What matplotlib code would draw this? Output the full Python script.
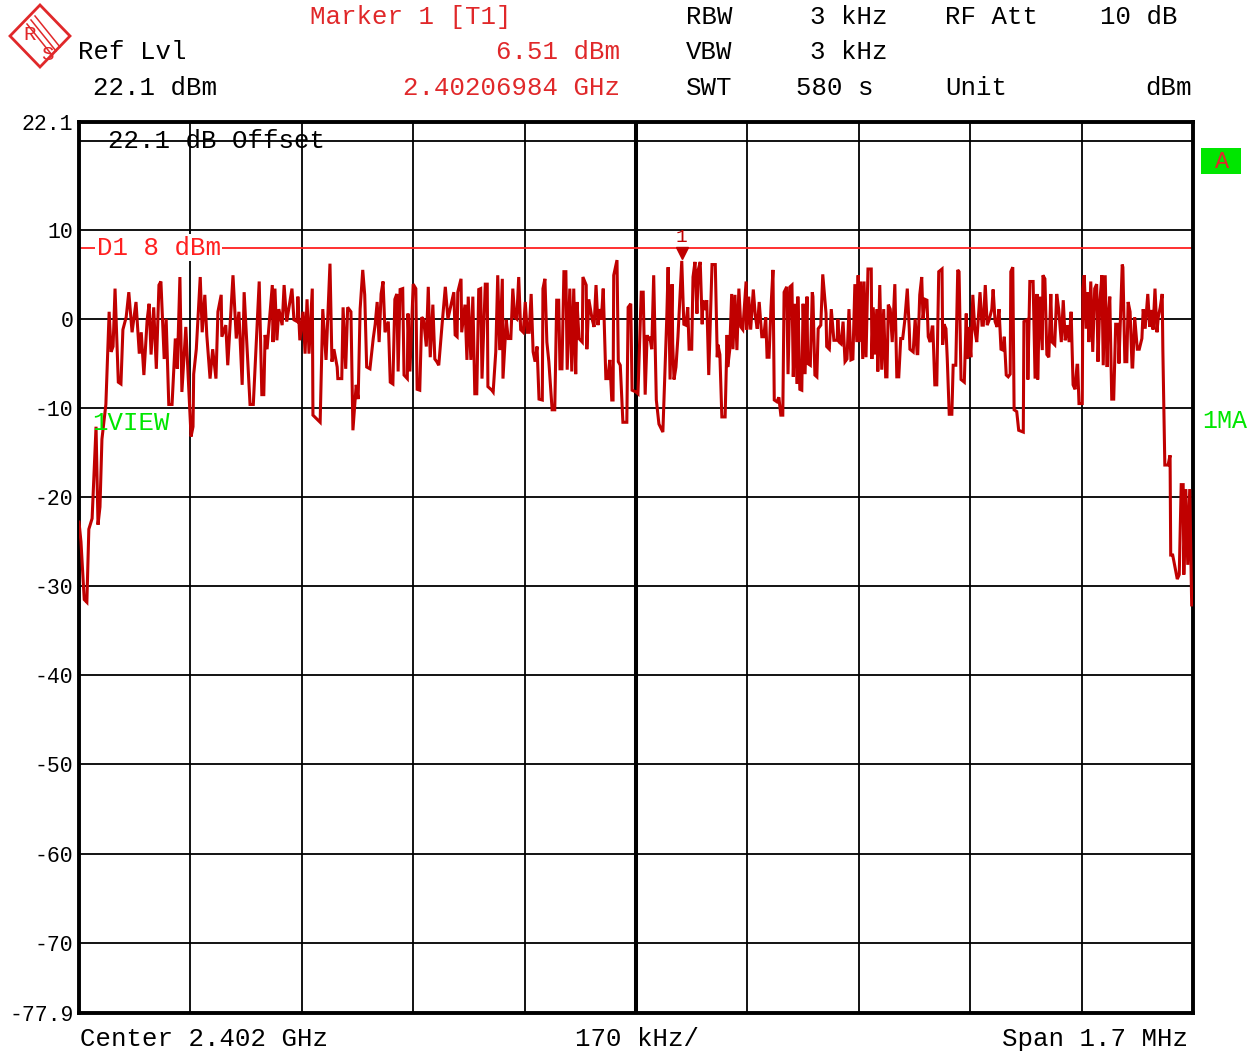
import matplotlib
matplotlib.use("Agg")
import matplotlib.pyplot as plt
import matplotlib.transforms as mtransforms
from matplotlib.patches import Polygon, Rectangle
from matplotlib.lines import Line2D

# ---- sweep settings -------------------------------------------------------
center_ghz = 2.402
span_khz = 1700.0
div_khz = 170.0
ref_level = 22.1
bottom_level = -77.9
display_line = 8.0
marker_freq_khz = 919.84     # offset from start of sweep (2.40206984 GHz)
marker_level = 6.51

# ---- trace: frequency offset from sweep start (kHz) and level (dBm) -------
freq_khz = [
    0, 3, 8, 12, 15, 20, 26, 29, 32, 35, 38, 41, 46, 49, 52, 55, 60, 64, 67, 72,
    76, 81, 87, 92, 95, 99, 104, 107, 110, 114, 118, 122, 125, 130, 133, 137, 142, 147, 150, 154,
    157, 163, 168, 171, 174, 175, 179, 185, 188, 192, 195, 200, 204, 209, 212, 217, 218, 224, 227, 232,
    235, 240, 244, 249, 252, 256, 261, 266, 270, 275, 279, 282, 284, 287, 295, 296, 299, 302, 305, 310,
    313, 317, 320, 325, 328, 333, 334, 337, 342, 345, 348, 351, 356, 357, 368, 372, 377, 383, 386, 389,
    394, 395, 401, 403, 407, 410, 415, 418, 423, 426, 429, 433, 436, 439, 444, 449, 452, 455, 458, 461,
    464, 467, 472, 475, 479, 482, 485, 487, 490, 494, 496, 501, 502, 505, 510, 514, 516, 520, 523, 526,
    530, 533, 536, 540, 543, 546, 549, 554, 559, 563, 572, 574, 577, 578, 583, 584, 589, 592, 594, 598,
    601, 604, 607, 610, 613, 615, 620, 623, 624, 630, 632, 636, 639, 642, 646, 647, 652, 655, 659, 662,
    665, 668, 671, 674, 678, 681, 684, 687, 690, 693, 696, 699, 702, 707, 708, 711, 714, 717, 722, 726,
    729, 732, 734, 737, 740, 743, 745, 749, 752, 755, 758, 760, 763, 768, 769, 774, 775, 778, 783, 786,
    789, 792, 794, 797, 800, 804, 807, 810, 813, 815, 816, 821, 823, 826, 830, 836, 838, 842, 844, 850,
    853, 858, 861, 864, 867, 868, 871, 874, 877, 881, 885, 891, 897, 899, 902, 905, 906, 908, 911, 914,
    919.84, 923, 926, 929, 931, 935, 937, 940, 943, 945, 948, 951, 952, 955, 958, 961, 966, 971, 974, 975,
    978, 981, 986, 989, 990, 993, 996, 998, 1001, 1004, 1007, 1010, 1013, 1018, 1019, 1022, 1025, 1029, 1032, 1035,
    1038, 1042, 1045, 1048, 1050, 1053, 1056, 1059, 1061, 1065, 1068, 1071, 1074, 1076, 1080, 1082, 1085, 1088, 1090, 1093,
    1096, 1097, 1100, 1103, 1105, 1108, 1111, 1112, 1116, 1119, 1120, 1123, 1126, 1128, 1132, 1135, 1140, 1141, 1145, 1148,
    1151, 1152, 1157, 1158, 1160, 1163, 1166, 1169, 1172, 1175, 1178, 1181, 1184, 1187, 1189, 1190, 1193, 1196, 1198, 1201,
    1204, 1209, 1210, 1212, 1215, 1218, 1219, 1222, 1225, 1228, 1231, 1233, 1235, 1238, 1241, 1245, 1248, 1251, 1254, 1257,
    1260, 1264, 1267, 1268, 1273, 1276, 1279, 1280, 1283, 1286, 1288, 1291, 1294, 1296, 1299, 1302, 1303, 1306, 1309, 1312,
    1317, 1318, 1320, 1323, 1325, 1328, 1332, 1334, 1338, 1341, 1343, 1346, 1351, 1354, 1355, 1358, 1361, 1364, 1367, 1370,
    1375, 1378, 1380, 1383, 1386, 1389, 1393, 1395, 1398, 1401, 1404, 1407, 1410, 1412, 1415, 1418, 1421, 1422, 1425, 1427,
    1431, 1434, 1441, 1442, 1447, 1448, 1451, 1456, 1459, 1462, 1463, 1466, 1470, 1471, 1474, 1477, 1480, 1483, 1485, 1489,
    1492, 1495, 1499, 1502, 1505, 1508, 1511, 1514, 1517, 1520, 1523, 1524, 1526, 1531, 1532, 1534, 1537, 1540, 1541, 1544,
    1547, 1550, 1553, 1555, 1558, 1561, 1563, 1566, 1569, 1570, 1573, 1576, 1579, 1582, 1586, 1587, 1592, 1593, 1596, 1599,
    1601, 1604, 1607, 1608, 1611, 1615, 1618, 1622, 1624, 1627, 1631, 1634, 1637, 1639, 1642, 1645, 1647, 1650, 1653, 1654,
    1657, 1662, 1665, 1666, 1669, 1676, 1679, 1682, 1685, 1686, 1689, 1692, 1695, 1698, 1700,
]
level_dbm = [
    -22.8, -25.0, -31.5, -31.8, -23.6, -22.4, -12.1, -23.1, -21.1, -13.5, -11.6, -9.6, 0.8, -3.7, -3.1, 3.4, -7.1, -7.3, -1.2, 0.2,
    3.0, -1.5, 1.9, -3.9, -1.5, -6.3, -0.1, 1.7, -4.0, 1.3, -5.6, 3.8, 4.2, -4.5, 0.0, -9.6, -9.6, -2.2, -5.6, 4.7,
    -8.2, -0.9, -8.5, -13.2, -12.1, -6.2, -3.4, 4.7, -1.5, 2.7, -1.8, -6.7, -3.4, -6.7, 0.8, 2.7, -2.0, -0.7, -5.2, 1.1,
    4.9, -2.2, 0.8, -7.4, 3.0, -2.6, -9.6, -9.6, -3.4, 4.2, -8.5, -8.5, -1.8, -3.4, 3.8, -2.6, 3.4, -2.4, 1.1, -0.7,
    3.8, -0.3, 1.1, 3.4, -0.1, -0.3, 2.5, -2.4, 0.8, -3.9, 2.2, -3.9, 3.4, -10.8, -11.6, 1.1, -4.6, 6.2, -4.8, -3.4,
    -5.4, -6.7, -6.7, 1.3, -5.6, 1.3, 0.8, -12.5, -7.4, -9.0, 1.1, 5.5, 2.7, -5.4, -5.6, -2.2, -0.6, 1.9, -2.6, 2.8,
    4.2, -1.5, -0.3, -7.1, -7.3, 2.2, 2.8, -5.9, 3.3, 3.4, -6.3, -6.7, 0.6, -5.9, 3.9, 3.4, -7.9, -8.0, 0.2, -0.1,
    -3.1, 3.6, -4.3, 1.6, -4.5, -4.8, -5.2, -0.7, 3.6, 0.0, 3.0, -1.8, -2.0, 3.0, 4.5, -1.5, 1.6, -4.6, 2.5, -4.6,
    2.5, -8.4, -8.4, 3.3, 3.4, -6.7, 3.9, 3.9, -7.6, -8.0, -8.2, -3.7, 4.9, -3.5, 4.5, -6.7, -0.1, -2.2, -2.2, 3.4,
    0.2, 0.0, 4.7, -1.2, -1.5, 1.9, -1.5, -1.5, 2.8, -3.7, -4.8, -3.1, -9.0, -9.1, 3.4, 4.5, -2.6, -4.8, -10.2, -10.2,
    2.1, 2.1, -5.6, -5.6, 5.3, 5.3, -5.7, 3.4, -5.9, 3.4, -6.2, 1.9, -2.2, -2.6, 4.7, 3.8, -3.4, 2.2, 0.0, -0.9,
    3.8, -0.7, 1.1, -0.1, 3.4, -6.7, -6.7, -4.6, -9.1, -9.1, 4.9, 6.6, -4.8, -5.2, -11.6, -11.6, 1.3, 1.7, -8.0, -8.2,
    -8.4, 3.0, 3.0, -8.5, -1.8, -2.4, -2.0, -3.4, 4.9, -9.1, -11.8, -12.7, 0.2, 5.8, -6.8, 3.9, -2.8, -6.8, -5.4, -2.0,
    6.51, -0.6, -0.7, 1.3, -3.4, -3.4, 4.7, 6.4, 0.6, 5.5, 6.4, -0.6, 2.1, 1.0, 2.1, -6.3, 6.1, 6.1, -4.3, -2.9,
    -4.0, -11.0, -11.0, -1.8, -5.4, -3.5, 2.8, -3.4, 2.7, -3.5, 3.4, -0.9, -1.2, 4.2, -1.2, 2.5, -1.2, 3.3, 0.4, -1.1,
    1.9, -2.0, -2.0, 0.2, -4.3, -4.3, 1.3, 5.5, -9.1, -9.3, -8.8, -10.8, -10.8, 3.0, 3.6, -6.2, 3.6, 3.8, -6.5, 1.7,
    -7.3, 2.5, -7.9, -8.0, 1.7, -6.2, 2.5, -5.0, -5.2, 3.0, 2.5, -6.3, -6.5, -1.1, -0.7, 5.0, 0.6, -3.1, -3.4, 1.1,
    -1.5, -2.4, -2.4, 0.0, -2.6, -2.8, -0.3, -4.8, -4.5, 1.1, -4.6, -4.5, 3.9, -2.6, 4.9, -2.6, 4.2, -4.5, 4.2, -4.3,
    5.6, 5.6, -4.5, 1.3, -4.0, 1.1, -5.9, 3.8, -5.7, 1.1, -6.5, -6.5, 1.6, 1.1, -2.6, 3.9, -6.5, -6.5, -2.2, -2.2,
    -0.3, 3.4, -1.1, -3.4, -3.7, 0.0, -3.9, -3.9, 2.7, 4.7, 0.0, 2.2, 2.1, -2.0, -2.6, -0.9, -0.9, -7.4, -7.4, 5.3,
    5.6, -2.9, -0.6, -1.1, -4.5, -10.7, -10.7, -5.2, -5.2, 5.5, 5.3, -6.8, -7.1, 0.6, -4.5, -0.9, -4.3, 2.7, -1.2, -2.6,
    3.0, -0.7, -0.7, 3.8, -0.7, -0.1, 1.1, 3.3, -0.3, -0.9, 1.1, -3.4, -3.5, -2.0, -6.3, -6.5, -6.2, 5.3, 5.8, -10.2,
    -10.4, -12.5, -12.7, -0.3, -0.1, -6.8, 4.2, 4.2, -6.7, 2.8, -6.8, 2.5, -3.5, 4.9, 4.5, -4.0, -4.3, 2.8, -2.6, -2.9,
    2.8, 1.1, -2.6, 2.1, -2.4, -0.7, -2.6, 0.8, -7.4, -7.9, -5.2, -5.2, -9.5, -9.5, 3.4, 4.9, -1.1, 3.0, -2.6, 4.2,
    -3.7, 3.4, 3.9, -4.8, 2.1, 4.9, -5.2, 4.9, -5.4, -0.6, 2.5, -9.0, -9.0, -0.6, -0.6, -5.0, 6.1, 5.8, -4.8, -4.8,
    1.9, 0.8, -5.4, -5.4, 0.2, -3.4, -3.4, -2.2, 1.1, -1.1, 2.8, -0.9, 1.0, -1.2, 3.4, -1.5, 0.2, 1.3, 2.8, -3.5,
    -16.4, -16.4, -15.3, -26.5, -26.5, -29.2, -28.7, -18.6, -18.6, -28.7, -19.1, -27.6, -19.1, -32.1, -32.1,
]

grid_levels = [20, 10, 0, -10, -20, -30, -40, -50, -60, -70]
ytick_levels = [22.1, 10, 0, -10, -20, -30, -40, -50, -60, -70, -77.9]
ytick_labels = ["22.1", "10", "0", "-10", "-20", "-30", "-40", "-50", "-60", "-70", "-77.9"]

# ---- colours / fonts --------------------------------------------------------
TRACE = "#c00000"
HDR_RED = "#e0282a"
LINE_RED = "#ff2020"
GREEN = "#00e600"
MONO = ["Liberation Mono", "DejaVu Sans Mono"]

W, H = 1256, 1053
fig = plt.figure(figsize=(W / 100, H / 100), dpi=100)
fig.patch.set_facecolor("white")


def fx(px):
    return px / W


def fy(py):
    return 1 - py / H


ax = fig.add_axes([fx(79), fy(1013), fx(1193) - fx(79), fy(122) - fy(1013)])
ax.set_xlim(0, span_khz)
ax.set_ylim(bottom_level, ref_level)
ax.set_facecolor("white")

# graticule
for lv in grid_levels:
    ax.axhline(lv, color="black", lw=1.3, zorder=1)
n_div = int(round(span_khz / div_khz))
for i in range(1, n_div):
    ax.axvline(i * div_khz, color="black", lw=2.9 if i == n_div // 2 else 1.3, zorder=1)
for sp in ax.spines.values():
    sp.set_linewidth(2.8)
    sp.set_color("black")

ax.set_xticks([])
ax.set_yticks(ytick_levels)
ax.set_yticklabels(ytick_labels, fontfamily=MONO, fontsize=15.5)
ax.tick_params(axis="y", length=0, pad=4)

# display line D1
ax.axhline(display_line, color=LINE_RED, lw=1.3, zorder=2)
ax.text(27, display_line, "D1 8 dBm", color=LINE_RED, fontfamily=MONO, fontsize=18.5,
        va="center", ha="left", zorder=3,
        bbox=dict(facecolor="white", edgecolor="none", pad=1.0))

# trace
ax.plot(freq_khz, level_dbm, color=TRACE, lw=2.2, zorder=4, solid_joinstyle="miter")

# marker 1
mk_tr = mtransforms.offset_copy(ax.transData, fig=fig, x=0, y=6, units="points")
ax.plot([marker_freq_khz], [marker_level], marker="v", color=TRACE, markersize=9,
        transform=mk_tr, zorder=5, clip_on=False)
lab_tr = mtransforms.offset_copy(ax.transData, fig=fig, x=0, y=17, units="points")
ax.text(marker_freq_khz, marker_level, "1", color=TRACE, fontfamily=MONO, fontsize=14,
        ha="center", va="center", transform=lab_tr, zorder=5)

# texts inside the grid
ax.text(45, 20, "22.1 dB Offset", color="black", fontfamily=MONO, fontsize=18.5,
        ha="left", va="center", zorder=3)
ax.text(20, -11.7, "1VIEW", color=GREEN, fontfamily=MONO, fontsize=18.5,
        ha="left", va="center", zorder=6)

# ---- header -----------------------------------------------------------------
def ftxt(x, y, s, color="black", ha="left", size=18.5):
    fig.text(fx(x), fy(y), s, color=color, ha=ha, va="center", fontfamily=MONO, fontsize=size)


ftxt(310, 17, "Marker 1 [T1]", HDR_RED)
ftxt(78, 52, "Ref Lvl")
ftxt(620, 52, "6.51 dBm", HDR_RED, ha="right")
ftxt(93, 88, "22.1 dBm")
ftxt(620, 88, "2.40206984 GHz", HDR_RED, ha="right")

ftxt(686, 17, "RBW")
ftxt(887, 17, "3 kHz", ha="right")
ftxt(945, 17, "RF Att")
ftxt(1177, 17, "10 dB", ha="right")
ftxt(686, 52, "VBW")
ftxt(887, 52, "3 kHz", ha="right")
ftxt(686, 88, "SWT")
ftxt(873, 88, "580 s", ha="right")
ftxt(945, 88, "Unit")
ftxt(1192, 88, "dBm", ha="right")

# footer
ftxt(80, 1039, f"Center {center_ghz:.3f} GHz")
ftxt(637, 1039, f"{div_khz:.0f} kHz/", ha="center")
ftxt(1188, 1039, f"Span {span_khz / 1000:.1f} MHz", ha="right")

# right-side annotations
fig.patches.append(Rectangle((fx(1201), fy(174)), fx(1241) - fx(1201), fy(148) - fy(174),
                             transform=fig.transFigure, facecolor=GREEN, edgecolor="none"))
ftxt(1222, 161, "A", HDR_RED, ha="center", size=17)
ftxt(1202, 421, "1MA", GREEN, size=18)

# logo
cx, cy, hw, hh = 40, 36, 30, 31
logo = Polygon([(fx(cx - hw), fy(cy)), (fx(cx), fy(cy - hh)), (fx(cx + hw), fy(cy)), (fx(cx), fy(cy + hh))],
               closed=True, transform=fig.transFigure, facecolor="none",
               edgecolor=HDR_RED, lw=2.0)
fig.patches.append(logo)
for d in (-4, 0, 4):
    fig.lines.append(Line2D([fx(31 + d), fx(56 + d)], [fy(20 - d), fy(51 - d)],
                            transform=fig.transFigure, color=HDR_RED, lw=1.1))
ftxt(30, 34, "R", HDR_RED, ha="center", size=15)
ftxt(47, 55, "S", HDR_RED, ha="center", size=15)

fig.savefig("out.png", dpi=100)
